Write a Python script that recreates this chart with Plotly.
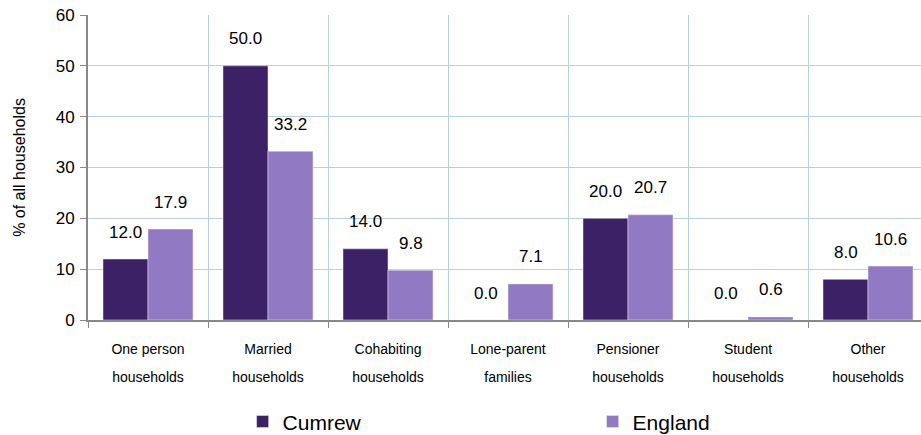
import plotly.graph_objects as go

# 家庭類型分佈：Cumrew 與 England 比較
line1 = ["One person", "Married", "Cohabiting", "Lone-parent", "Pensioner", "Student", "Other"]
line2 = ["households", "households", "households", "families", "households", "households", "households"]
cumrew = [12.0, 50.0, 14.0, 0.0, 20.0, 0.0, 8.0]
england = [17.9, 33.2, 9.8, 7.1, 20.7, 0.6, 10.6]

DARK = "#3d2166"
LIGHT = "#9279c3"
GRID = "#b9cde4"
AXIS = "#898989"
FONT = "Liberation Sans, Arial, sans-serif"

pos = list(range(len(line1)))
bar_w = 0.375

fig = go.Figure()
fig.add_trace(go.Bar(x=pos, y=cumrew, name="Cumrew", marker_color=DARK, width=bar_w,
                     offset=-bar_w))
fig.add_trace(go.Bar(x=pos, y=england, name="England", marker_color=LIGHT, width=bar_w,
                     offset=0))

# 兩行類別標籤用兩條疊加的 x 軸
fig.add_trace(go.Scatter(x=pos, y=[None] * len(pos), xaxis="x2", yaxis="y",
                         showlegend=False, hoverinfo="skip"))
fig.add_trace(go.Scatter(x=pos, y=[None] * len(pos), xaxis="x3", yaxis="y",
                         showlegend=False, hoverinfo="skip"))

# 數值標籤
for i, v in enumerate(cumrew):
    fig.add_annotation(x=i - bar_w / 2, y=v, text=f"{v:.1f}", showarrow=False,
                       yanchor="middle", yshift=27, font=dict(size=17, color="#000"))
for i, v in enumerate(england):
    fig.add_annotation(x=i + bar_w / 2, y=v, text=f"{v:.1f}", showarrow=False,
                       yanchor="middle", yshift=27, font=dict(size=17, color="#000"))

xr = [-0.5, 6.5 - 7 / 120]
bounds = [p - 0.5 for p in pos] + [pos[-1] + 0.5]

fig.update_layout(
    width=921, height=435,
    margin=dict(l=88, r=0, t=15, b=115, autoexpand=False),
    plot_bgcolor="white", paper_bgcolor="white",
    font=dict(family=FONT, color="#000"),
    barmode="overlay",
    xaxis=dict(range=xr, tickvals=bounds, ticktext=[""] * len(bounds),
               showgrid=True, gridcolor=GRID, gridwidth=1,
               showline=True, linecolor=AXIS, linewidth=2,
               ticks="outside", ticklen=6, tickcolor=AXIS, zeroline=False,
               automargin=False),
    xaxis2=dict(range=xr, overlaying="x", side="bottom", tickvals=pos, ticktext=line1,
                showgrid=False, showline=False, ticks="", zeroline=False,
                ticklabelstandoff=19, tickfont=dict(size=14), automargin=False),
    xaxis3=dict(range=xr, overlaying="x", side="bottom", tickvals=pos, ticktext=line2,
                showgrid=False, showline=False, ticks="", zeroline=False,
                ticklabelstandoff=47, tickfont=dict(size=14), automargin=False),
    yaxis=dict(range=[0, 60], dtick=10, showgrid=True, gridcolor=GRID, gridwidth=1,
               showline=True, linecolor=AXIS, linewidth=2, zeroline=False,
               ticks="outside", ticklen=6, tickcolor=AXIS,
               ticklabeloverflow="allow", ticklabelstandoff=2,
               tickfont=dict(size=17), automargin=False,
               title=dict(text="% of all households", font=dict(size=16), standoff=26)),
    legend=dict(orientation="h", x=0.1856, xanchor="left", y=-0.334, yanchor="middle",
                font=dict(size=21), entrywidth=305, entrywidthmode="pixels",
                bgcolor="rgba(0,0,0,0)"),
)

# 去掉頁面 body 預設的 8px 邊距，讓圖貼齊視窗
fig.write_html("out.html", config={"displayModeBar": False},
               post_script="document.body.style.margin='0px';")
